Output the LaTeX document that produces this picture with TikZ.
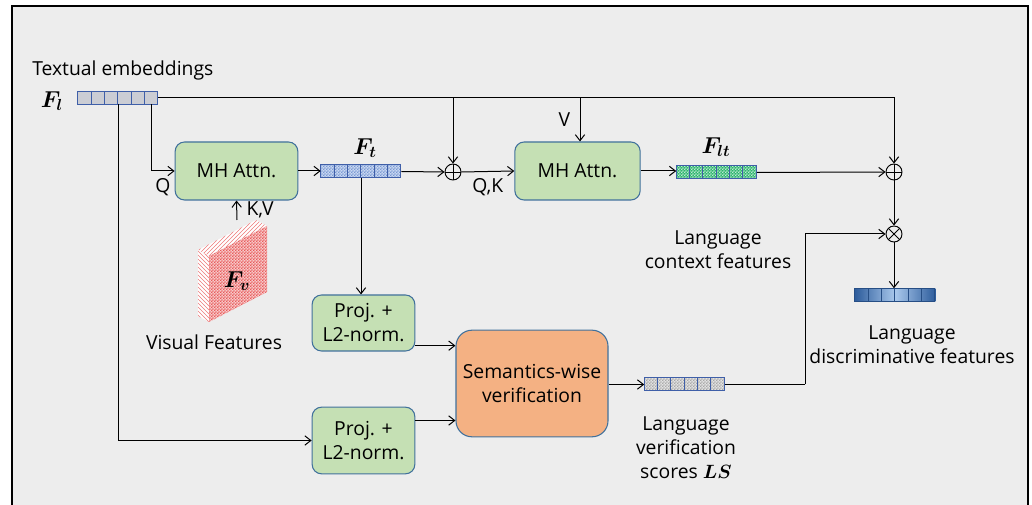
\documentclass[tikz,border=0pt]{standalone}
\usepackage{bm}
\usepackage{fontspec}
\setmainfont{Open Sans}
\usetikzlibrary{arrows.meta,patterns,calc}

\definecolor{bgc}{HTML}{EDEDED}
\definecolor{boxborder}{HTML}{41719C}
\definecolor{attngreen}{HTML}{C5E0B4}
\definecolor{semorange}{HTML}{F4B183}
\definecolor{cellblue}{HTML}{3F5FA8}
\definecolor{embgray}{HTML}{CBCDD4}
\definecolor{ftfill}{HTML}{C9D7F0}
\definecolor{ftdots}{HTML}{7A9AD4}
\definecolor{fltfill}{HTML}{2DB56E}
\definecolor{lsfill}{HTML}{E2E2E2}
\definecolor{lsdots}{HTML}{A8A8A8}
\definecolor{outdark}{HTML}{2D5C9C}
\definecolor{outlight}{HTML}{A9C8EC}
\definecolor{slabface}{HTML}{F7CACA}
\definecolor{slabred}{HTML}{E85A5A}

% small checker tile used by the feature vectors and the slab face
\pgfdeclarepatternformonly{finecheck}{\pgfpointorigin}{\pgfqpoint{2.4pt}{2.4pt}}{\pgfqpoint{2.4pt}{2.4pt}}{%
  \pgfpathrectangle{\pgfpointorigin}{\pgfqpoint{1.2pt}{1.2pt}}%
  \pgfpathrectangle{\pgfqpoint{1.2pt}{1.2pt}}{\pgfqpoint{1.2pt}{1.2pt}}%
  \pgfusepath{fill}}

\newcommand\txt{\fontsize{14.5}{18}\selectfont}
\newcommand\mathlbl{\fontsize{17}{20}\selectfont}

% six-cell feature vector drawn over a named placeholder node
% #1 node name, #2 fill options, #3 border colour
\newcommand\cellrow[3]{%
  \foreach \i in {0,...,5}{%
    \path[#2] ($(#1.north west)+(\i*13.333,0)$) rectangle ++(13.333,13);}
  \foreach \i in {0,...,5}{%
    \draw[draw=#3,line width=0.7pt] ($(#1.north west)+(\i*13.333,0)$) rectangle ++(13.333,13);}
}

\tikzset{
  box/.style={draw=boxborder, line width=0.8pt, rounded corners=7pt, align=center,
              inner sep=0pt, font=\txt},
  attn/.style={box, fill=attngreen, minimum height=43.5pt},
  proj/.style={box, fill=attngreen, minimum width=77pt},
  sem/.style={box, fill=semorange, rounded corners=12pt, minimum width=114pt, minimum height=80pt},
  vecslot/.style={minimum width=60pt, minimum height=9.75pt, inner sep=0pt},
  opc/.style={circle, draw, line width=0.7pt, minimum size=12pt, inner sep=0pt},
  plus/.style={opc, path picture={\draw[line width=0.6pt]
      (path picture bounding box.north) -- (path picture bounding box.south)
      (path picture bounding box.west) -- (path picture bounding box.east);}},
  times/.style={opc, path picture={\draw[line width=0.6pt]
      (path picture bounding box.north west) -- (path picture bounding box.south east)
      (path picture bounding box.north east) -- (path picture bounding box.south west);}},
  arr/.style={line width=0.75pt, -{Straight Barb[length=4.5pt,width=7pt]}},
  link/.style={line width=0.75pt},
  lbl/.style={font=\txt, inner sep=0pt},
}

\begin{document}
\begin{tikzpicture}[x=0.75pt,y=-0.75pt]
\useasboundingbox (0,0) rectangle (1032,505);
\fill[white] (0,0) rectangle (1032,505);
\draw[fill=bgc, line width=1.1pt] (12,6) rectangle (1028,530);

% ---- blocks
\node[attn, minimum width=92pt] (mh1) at (236.5,171) {MH Attn.};
\node[attn, minimum width=94pt] (mh2) at (577.5,171) {MH Attn.};
\node[proj, minimum height=42pt] (p1) at (363.5,323) {Proj. +\\L2-norm.};
\node[proj, minimum height=50pt] (p2) at (363.5,440.5) {Proj. +\\L2-norm.};
\node[sem] (sem) at (532,383.5) {Semantics-wise\\verification};

\node[plus] (add1) at (453,172) {};
\node[plus] (add2) at (894,172) {};
\node[times] (mul) at (894,234) {};

% ---- feature vectors
\node[vecslot] (fl) at (118,98) {};
\cellrow{fl}{fill=embgray}{cellblue}
\node[vecslot] (ft) at (361,171.5) {};
\cellrow{ft}{fill=ftfill, postaction={pattern=finecheck, pattern color=ftdots}}{cellblue}
\node[vecslot] (flt) at (716.5,172.5) {};
\cellrow{flt}{fill=fltfill, postaction={pattern=finecheck, pattern color=white!70!fltfill}}{cellblue}
\node[vecslot] (ls) at (684.5,384.5) {};
\cellrow{ls}{fill=lsfill, postaction={pattern=finecheck, pattern color=lsdots}}{cellblue}
\node[vecslot] (fout) at (895,295) {};
\fill[left color=outdark, right color=outlight] (fout.north west) rectangle (fout.south);
\fill[left color=outlight, right color=outdark] (fout.north) rectangle (fout.south east);
\foreach \i in {0,...,5}{%
  \draw[draw=outdark!85!black, line width=0.6pt] ($(fout.north west)+(\i*13.333,0)$) rectangle ++(13.333,13);}

% ---- visual feature slab
\coordinate (fvtop) at (237,220);
\path[fill=white, postaction={pattern=north east lines, pattern color=slabred!80}]
  (198,250) -- (256,220) -- (267,226) -- (209,256) -- cycle;
\path[fill=white, postaction={pattern=north west lines, pattern color=slabred!80}]
  (198,250) -- (209,256) -- (209,322) -- (198,316) -- cycle;
\path[fill=slabface, postaction={pattern=finecheck, pattern color=slabred}]
  (209,256) -- (267,226) -- (267,292) -- (209,322) -- cycle;
\node[font=\mathlbl] (fv) at (237,281) {$\bm{F_v}$};

% ---- texts
\node[lbl, anchor=west] (te) at (32,70) {Textual embeddings};
\node[font=\mathlbl, inner sep=0pt] (fll) at (52,101) {$\bm{F_l}$};
\node[font=\mathlbl, inner sep=0pt] (ftl) at (365,148) {$\bm{F_t}$};
\node[font=\mathlbl, inner sep=0pt] (fltl) at (716,147) {$\bm{F_{lt}}$};
\node[lbl] (vf) at (214,342) {Visual Features};
\node[lbl, align=center] (lcf) at (718,249.5) {Language\\context features};
\node[lbl, align=center] (ldf) at (912,345) {Language\\discriminative features};
\node[lbl, align=center] (lvs) at (686,448) {Language\\verification\\scores $\bm{LS}$};

% ---- connectors
\coordinate (qd) at (151,104);
\coordinate (pd) at (118,104);
\coordinate (vtop) at (580,98);
\coordinate (lsturn) at (805,384.5);

\draw[arr] (fl.east) -| (add2.north);
\draw[arr] (add1.north |- fl.east) -- (add1.north);
\draw[arr] (vtop) -- (vtop |- mh2.north) node[lbl, pos=0.5, left=7pt] {V};
\draw[arr] (qd) |- (mh1.west) node[lbl, pos=0.75, below=5pt] {Q};
\draw[arr] (pd) |- (p2.west);
\draw[arr] (fvtop) -- (mh1.south) node[lbl, pos=0.5, right=7pt] {K,V};
\draw[arr] (mh1.east) -- (ft.west |- mh1.east);
\draw[arr] (ft.east) -- (add1.west);
\draw[arr] (ft.south) -- (ft.south |- p1.north);
\draw[arr] (add1.east) -- (mh2.west) node[lbl, pos=0.5, below=5pt] {Q,K};
\draw[arr] (mh2.east) -- (flt.west |- mh2.east);
\draw[arr] (flt.east) -- (add2.west);
\draw[arr] (add2.south) -- (mul.north);
\draw[arr] (mul.south) -- (mul.south |- fout.north);
\draw[arr] ([yshift=-17pt]p1.east) -- ([yshift=-17pt]p1.east -| sem.west);
\draw[arr] ([yshift=15pt]p2.east) -- ([yshift=15pt]p2.east -| sem.west);
\draw[arr] (sem.east |- ls.west) -- (ls.west);
\draw[link] (ls.east) -- (lsturn);
\draw[arr] (lsturn) |- (mul.west);
\end{tikzpicture}
\end{document}
